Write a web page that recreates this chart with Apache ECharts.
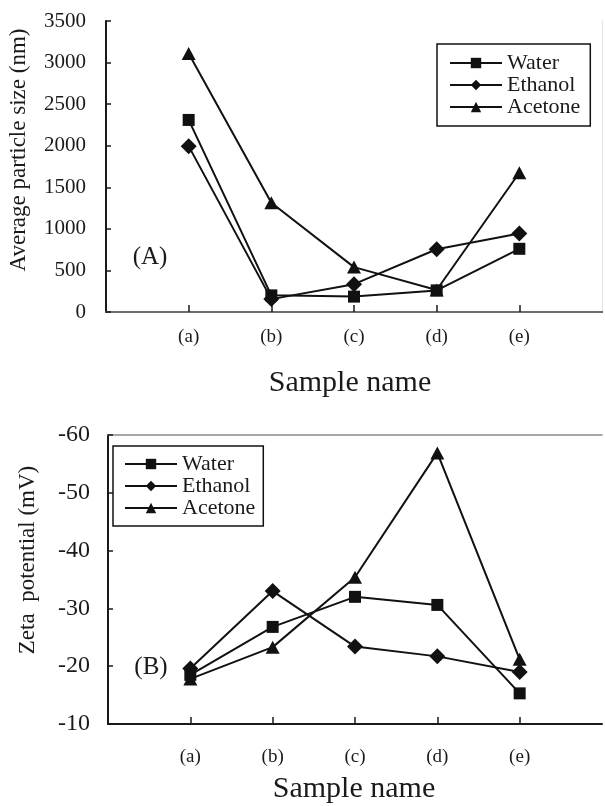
<!DOCTYPE html>
<html>
<head>
<meta charset="utf-8">
<script src="https://cdn.jsdelivr.net/npm/echarts@6/dist/echarts.min.js"></script>
<style>
html,body{margin:0;padding:0;background:#fff;}
#main{width:605px;height:806px;}
</style>
</head>
<body>
<div id="main"></div>
<script>
const categories = ['(a)', '(b)', '(c)', '(d)', '(e)'];
const seriesNames = ['Water', 'Ethanol', 'Acetone'];
const sizeWater = [2310, 200, 185, 260, 760];
const sizeEthanol = [1995, 155, 335, 755, 945];
const sizeAcetone = [3110, 1315, 540, 265, 1675];
const zetaWater = [-18.5, -26.8, -32.0, -30.6, -15.3];
const zetaEthanol = [-19.6, -33.0, -23.4, -21.7, -19.0];
const zetaAcetone = [-17.8, -23.3, -35.4, -56.9, -21.2];
const sizeTitle = 'Average particle size (nm)';
const zetaTitle = 'Zeta  potential (mV)';
const xTitle = 'Sample name';

const FONT = 'Liberation Serif';
const INK = '#1a1a1a';
const axisCats = [''].concat(categories, ['']);
const symbols = ['rect', 'diamond', 'triangle'];
const symSizes = [12, 16, [14, 13]];

function pairs(vals) { return vals.map((v, i) => [categories[i], v]); }

function mkSeries(vals, idx, gi) {
  return {
    name: seriesNames[idx], type: 'line', xAxisIndex: gi * 2, yAxisIndex: gi * 2,
    data: pairs(vals), symbol: symbols[idx], symbolSize: symSizes[idx],
    showSymbol: true, animation: false, z: 3 + idx,
    itemStyle: { color: '#111' },
    lineStyle: { color: '#111', width: 2 },
    emphasis: { disabled: true }
  };
}

function catAxis(gi, margin) {
  return {
    type: 'category', gridIndex: gi, data: axisCats, boundaryGap: false,
    axisLine: { lineStyle: { color: INK, width: 2 } },
    axisTick: { inside: true, length: 7, lineStyle: { color: INK, width: 1.5 },
      interval: (i) => i >= 1 && i <= categories.length },
    axisLabel: { interval: 0, margin: margin, fontFamily: FONT, fontSize: 19, color: INK },
    splitLine: { show: false }
  };
}
function topBorder(gi) {
  return {
    type: 'category', gridIndex: gi, data: axisCats, boundaryGap: false, position: 'top',
    axisLine: { lineStyle: { color: '#8a8a8a', width: 1.5 } },
    axisTick: { show: false }, axisLabel: { show: false }, splitLine: { show: false }
  };
}
function rightBorder(gi, mn, mx, inv, col) {
  return {
    type: 'value', gridIndex: gi, position: 'right', min: mn, max: mx, inverse: inv,
    axisLine: { show: !!col, lineStyle: { color: col || '#fff', width: 1 } },
    axisTick: { show: false }, axisLabel: { show: false }, splitLine: { show: false }
  };
}

const legendCommon = {
  orient: 'vertical', data: seriesNames, itemWidth: 52, itemHeight: 13, itemGap: 0,
  borderColor: '#111', borderWidth: 1.5, backgroundColor: '#fff',
  textStyle: { fontFamily: FONT, fontSize: 22, color: INK, lineHeight: 21 },
  selectedMode: false
};

const option = {
  animation: false,
  backgroundColor: '#fff',
  grid: [
    { left: 106, top: 21, width: 498, height: 291 },
    { left: 108, top: 435, width: 498, height: 289 }
  ],
  xAxis: [catAxis(0, 16), topBorder(0), catAxis(1, 24), topBorder(1)],
  yAxis: [
    { type: 'value', gridIndex: 0, min: 0, max: 3500, interval: 500,
      axisLine: { show: true, lineStyle: { color: INK, width: 2 } },
      axisTick: { show: true, inside: true, length: 5, lineStyle: { color: INK, width: 1.5 } },
      axisLabel: { margin: 20, fontFamily: FONT, fontSize: 21, color: INK, formatter: (v) => String(v) },
      splitLine: { show: false } },
    rightBorder(0, 0, 3500, false, '#e2e2e2'),
    { type: 'value', gridIndex: 1, min: -60, max: -10, interval: 10, inverse: true,
      axisLine: { show: true, lineStyle: { color: INK, width: 2 } },
      axisTick: { show: true, inside: true, length: 5, lineStyle: { color: INK, width: 1.5 } },
      axisLabel: { margin: 18, fontFamily: FONT, fontSize: 24, color: INK, formatter: (v) => String(v) },
      splitLine: { show: false } },
    rightBorder(1, -60, -10, true, null)
  ],
  legend: [
    Object.assign({}, legendCommon, { left: 437, top: 44, padding: [8, 10, 8, 12] }),
    Object.assign({}, legendCommon, { left: 113, top: 446, padding: [7, 8, 7, 11] })
  ],
  graphic: [
    { type: 'text', x: 19, y: 150, rotation: Math.PI / 2,
      style: { text: sizeTitle, font: '23px "' + FONT + '"', fill: INK, textAlign: 'center', textVerticalAlign: 'middle' } },
    { type: 'text', x: 28, y: 560, rotation: Math.PI / 2,
      style: { text: zetaTitle, font: '23px "' + FONT + '"', fill: INK, textAlign: 'center', textVerticalAlign: 'middle' } },
    { type: 'text', x: 350, y: 383,
      style: { text: xTitle, font: '30px "' + FONT + '"', fill: INK, textAlign: 'center', textVerticalAlign: 'middle' } },
    { type: 'text', x: 354, y: 789,
      style: { text: xTitle, font: '30px "' + FONT + '"', fill: INK, textAlign: 'center', textVerticalAlign: 'middle' } },
    { type: 'text', x: 150, y: 257,
      style: { text: '(A)', font: '25px "' + FONT + '"', fill: INK, textAlign: 'center', textVerticalAlign: 'middle' } },
    { type: 'text', x: 151, y: 667,
      style: { text: '(B)', font: '25px "' + FONT + '"', fill: INK, textAlign: 'center', textVerticalAlign: 'middle' } }
  ],
  series: [
    mkSeries(sizeWater, 0, 0), mkSeries(sizeEthanol, 1, 0), mkSeries(sizeAcetone, 2, 0),
    mkSeries(zetaWater, 0, 1), mkSeries(zetaEthanol, 1, 1), mkSeries(zetaAcetone, 2, 1)
  ]
};

const chart = echarts.init(document.getElementById('main'), null, { renderer: 'canvas' });
chart.setOption(option);
</script>
</body>
</html>
